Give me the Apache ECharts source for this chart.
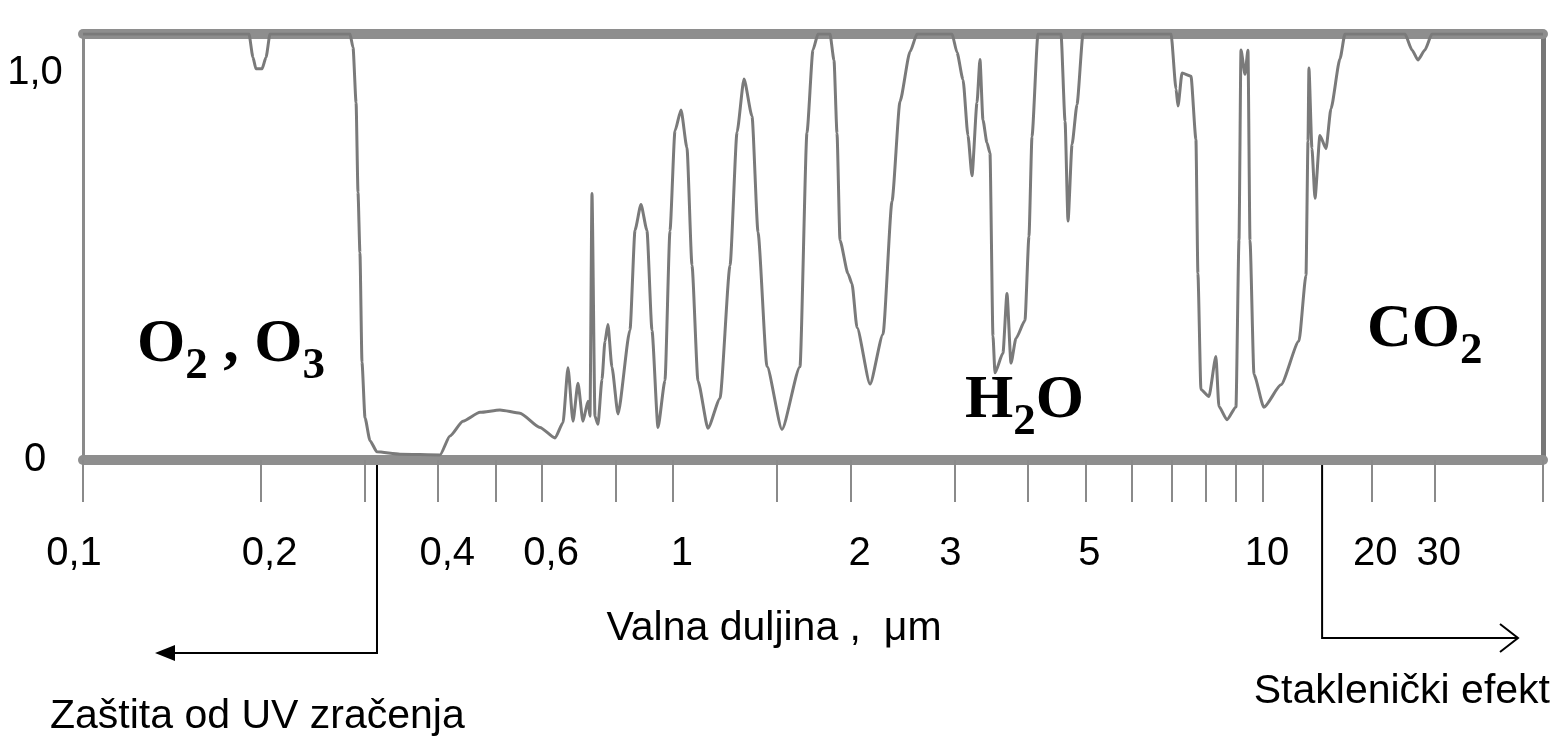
<!DOCTYPE html>
<html><head><meta charset="utf-8">
<script src="https://cdn.jsdelivr.net/npm/echarts@6/dist/echarts.min.js"></script>
<style>html,body{margin:0;padding:0;background:#fff}#c{width:1562px;height:740px}</style>
</head><body><div id="c"></div>
<script>
// Wavelength (µm) and atmospheric absorption
const wavelength = [
  0.1, 0.1911, 0.1941, 0.1964, 0.2011, 0.2043, 0.2075, 0.2835, 0.2869, 0.2903,
  0.2925, 0.2947, 0.2971, 0.3006, 0.3065, 0.315, 0.3445, 0.4027, 0.4188, 0.4405,
  0.4709, 0.509, 0.5505, 0.5951, 0.631, 0.651, 0.6638, 0.6769, 0.6902, 0.7038,
  0.7177, 0.7233, 0.729, 0.7375, 0.7462, 0.758, 0.7668, 0.7758, 0.788, 0.8069,
  0.8456, 0.8623, 0.8826, 0.9034, 0.9213, 0.9432, 0.9692, 0.9884, 1.0078, 1.0318,
  1.0561, 1.077, 1.1025, 1.1464, 1.2014, 1.2494, 1.2841, 1.3195, 1.3613, 1.3936,
  1.4432, 1.53, 1.6416, 1.6869, 1.727, 1.7612, 1.8455, 1.8747, 1.8967, 1.9191,
  1.98, 2.0111, 2.0508, 2.1577, 2.2699, 2.3511, 2.4256, 2.5223, 2.5922, 2.9717,
  3.0304, 3.1019, 3.1623, 3.2122, 3.2757, 3.3139, 3.3527, 3.4057, 3.4459, 3.4865,
  3.514, 3.625, 3.6822, 3.7404, 3.814, 3.95, 4.012, 4.06, 4.156, 4.547,
  4.619, 4.673, 4.747, 4.84, 4.955, 6.986, 7.123, 7.178, 7.292, 7.551,
  7.698, 7.758, 7.85, 8.098, 8.323, 8.421, 8.69, 9.0, 9.107, 9.178,
  9.323, 9.432, 9.507, 9.655, 10.06, 11.22, 12.59, 13.17, 13.34, 13.42,
  13.68, 13.95, 14.4, 14.97, 15.45, 16.37, 16.9, 24.81, 25.94, 26.96,
  28.19, 29.48, 60
];
const absorption = [
  1.1, 1.1, 1.04, 1.01, 1.01, 1.04, 1.1, 1.1, 1.065, 0.923,
  0.691, 0.536, 0.252, 0.109, 0.05, 0.021, 0.015, 0.013, 0.062, 0.1,
  0.123, 0.129, 0.121, 0.084, 0.057, 0.096, 0.238, 0.1, 0.198, 0.1,
  0.152, 0.113, 0.688, 0.113, 0.092, 0.208, 0.306, 0.35, 0.24, 0.119,
  0.336, 0.594, 0.66, 0.593, 0.335, 0.084, 0.205, 0.592, 0.85, 0.904,
  0.806, 0.503, 0.204, 0.082, 0.159, 0.502, 0.847, 0.984, 0.888, 0.588,
  0.242, 0.079, 0.241, 0.845, 1.059, 1.1, 1.1, 1.032, 0.844, 0.567,
  0.481, 0.455, 0.342, 0.196, 0.325, 0.668, 0.926, 1.054, 1.1, 1.1,
  1.052, 0.982, 0.838, 0.734, 0.923, 1.034, 0.878, 0.819, 0.793, 0.32,
  0.225, 0.276, 0.43, 0.25, 0.314, 0.36, 0.577, 0.835, 1.1, 1.1,
  0.875, 0.617, 0.815, 0.918, 1.1, 1.1, 0.958, 0.914, 0.999, 0.991,
  0.828, 0.482, 0.182, 0.164, 0.267, 0.138, 0.104, 0.137, 0.568, 1.059,
  0.996, 1.058, 0.567, 0.221, 0.136, 0.194, 0.307, 0.477, 0.823, 1.012,
  0.805, 0.676, 0.838, 0.804, 0.907, 1.036, 1.1, 1.1, 1.059, 1.033,
  1.059, 1.1, 1.1
];
const xTickValues = [0.1, 0.2, 0.3, 0.4, 0.5, 0.6, 0.8, 1, 1.5, 2, 3, 4, 5, 6, 7, 8, 9, 10, 20, 30, 60];
const xLabelValues = [0.1, 0.2, 0.4, 0.6, 1, 2, 3, 5, 10, 20, 30];
const xLabelTexts = ['0,1', '0,2', '0,4', '0,6', '1', '2', '3', '5', '10', '20', '30'];
const yLabelValues = [0, 1];
const yLabelTexts = ['0', '1,0'];
const xRange = [0.1, 60];
const yRange = [0, 1.1];
const xName = 'Valna duljina ,  \u03bcm';
const uvEdge = 0.315;          // µm, end of O2/O3 absorption
const greenhouseEdge = 14.6;   // µm, start of CO2 band
const uvText = 'Zaštita od UV zračenja';
const ghText = 'Staklenički efekt';
// gas labels: [text, subscript?] pieces
const gasO = [['O', false], ['2', true], [' , O', false], ['3', true]];
const gasH2O = [['H', false], ['2', true], ['O', false]];
const gasCO2 = [['CO', false], ['2', true]];

// Axis scale of the original figure: logarithmic to 10 µm, compressed log beyond
const FAR_IR = 0.61;
function scaleX(l) { const g = Math.log10(l); return g <= 1 ? g : 1 + (g - 1) * FAR_IR; }
function near(a, b) { return Math.abs(a - b) < 1e-6; }

const SANS = 'Liberation Sans, Arial, sans-serif';
const SERIF = 'Liberation Serif, Times New Roman, serif';
const frameColor = '#8e8e8e';
const lblBase = { fontSize: 40, fontFamily: SANS, color: '#000' };
// small horizontal nudges of the tick labels, as placed in the original figure
const lblNudge = { '0,1': 'l', '3': 'c', '5': 's', '10': 's', '20': 's', '30': 's' };

const chart = echarts.init(document.getElementById('c'), null, { renderer: 'canvas' });
const option = {
  animation: false,
  backgroundColor: '#fff',
  grid: { left: 83, right: 19, top: 34, bottom: 280, containLabel: false },
  xAxis: [{
    type: 'value', min: scaleX(xRange[0]), max: scaleX(xRange[1]),
    name: xName, nameLocation: 'middle', nameGap: 148,
    nameTextStyle: { fontSize: 41, fontFamily: SANS, color: '#000', padding: [0, 78, 0, 0] },
    axisLine: { show: true, onZero: false, lineStyle: { color: frameColor, width: 10 } },
    axisTick: { show: true, length: 42, customValues: xTickValues.map(scaleX), lineStyle: { color: '#8a8a8a', width: 2 } },
    axisLabel: {
      show: true, customValues: xLabelValues.map(scaleX), margin: 74,
      fontSize: 40, fontFamily: SANS, color: '#000',
      formatter: v => {
        const i = xLabelValues.findIndex(l => near(scaleX(l), v));
        if (i < 0) return '';
        const t = xLabelTexts[i];
        return '{' + (lblNudge[t] || 'r') + '|' + t + '}';
      },
      rich: {
        l: Object.assign({ padding: [0, 18, 0, 0] }, lblBase),
        c: Object.assign({ padding: [0, 8, 0, 0] }, lblBase),
        s: Object.assign({ padding: [0, 0, 0, 8] }, lblBase),
        r: Object.assign({ padding: [0, 0, 0, 18] }, lblBase)
      }
    },
    splitLine: { show: false }
  }, {
    type: 'value', position: 'top', min: scaleX(xRange[0]), max: scaleX(xRange[1]),
    axisLine: { show: true, onZero: false, lineStyle: { color: frameColor, width: 10 } },
    axisTick: { show: false }, axisLabel: { show: false }, splitLine: { show: false }
  }],
  yAxis: [{
    type: 'value', min: yRange[0], max: yRange[1],
    axisLine: { show: true, onZero: false, lineStyle: { color: '#8a8a8a', width: 3 } },
    axisTick: { show: false },
    axisLabel: {
      show: true, customValues: yLabelValues, margin: 48, align: 'center',
      fontSize: 40, fontFamily: SANS, color: '#000', padding: [12, 0, 0, 0],
      formatter: v => { const i = yLabelValues.findIndex(y => near(y, v)); return i >= 0 ? yLabelTexts[i] : ''; }
    },
    splitLine: { show: false }
  }, {
    type: 'value', position: 'right', min: yRange[0], max: yRange[1],
    axisLine: { show: true, onZero: false, lineStyle: { color: '#777', width: 5 } },
    axisTick: { show: false }, axisLabel: { show: false }, splitLine: { show: false }
  }],
  series: [{
    type: 'line', xAxisIndex: 0, yAxisIndex: 0,
    data: wavelength.map((l, i) => [scaleX(l), absorption[i]]),
    showSymbol: false, smooth: 0.2, smoothMonotone: 'x',
    lineStyle: { color: '#7a7a7a', width: 3 },
    clip: true, z: 1
  }]
};
chart.setOption(option);

const pUV = chart.convertToPixel({ gridIndex: 0 }, [scaleX(uvEdge), 0]);
const pGH = chart.convertToPixel({ gridIndex: 0 }, [scaleX(greenhouseEdge), 0]);
const uvY = 653, ghY = 638;

// chemical formulas with true subscripts
const mctx = document.createElement('canvas').getContext('2d');
function formula(parts, x, midY, size) {
  const subSize = Math.round(size * 0.72);
  const out = [];
  let cx = x;
  parts.forEach(([t, sub]) => {
    const fs = sub ? subSize : size;
    mctx.font = 'bold ' + fs + 'px ' + SERIF;
    out.push({ type: 'text', silent: true, style: {
      x: cx, y: sub ? midY + 21 : midY, text: t, fontSize: fs, fontWeight: 'bold',
      fontFamily: SERIF, fill: '#000', align: 'left', verticalAlign: 'middle' } });
    cx += mctx.measureText(t).width;
  });
  return out;
}

chart.setOption({
  graphic: [
    { type: 'polyline', silent: true, shape: { points: [[pUV[0], pUV[1] - 5], [pUV[0], uvY], [172, uvY]] }, style: { stroke: '#000', lineWidth: 2, fill: null } },
    { type: 'polygon', silent: true, shape: { points: [[155, uvY], [175, uvY - 8], [175, uvY + 8]] }, style: { fill: '#000' } },
    { type: 'polyline', silent: true, shape: { points: [[pGH[0], pGH[1] - 5], [pGH[0], ghY], [1518, ghY]] }, style: { stroke: '#000', lineWidth: 2, fill: null } },
    { type: 'polyline', silent: true, shape: { points: [[1500, ghY - 14], [1518, ghY], [1500, ghY + 14]] }, style: { stroke: '#000', lineWidth: 2, fill: null } },
    { type: 'text', silent: true, style: { x: 50, y: 717, text: uvText, fontSize: 41, fontFamily: SANS, fill: '#000', verticalAlign: 'middle', align: 'left' } },
    { type: 'text', silent: true, style: { x: 1550, y: 692, text: ghText, fontSize: 41, fontFamily: SANS, fill: '#000', verticalAlign: 'middle', align: 'right' } }
  ].concat(formula(gasO, 137, 345, 62), formula(gasH2O, 965, 401, 62), formula(gasCO2, 1367, 330, 62))
});
</script>
</body></html>
